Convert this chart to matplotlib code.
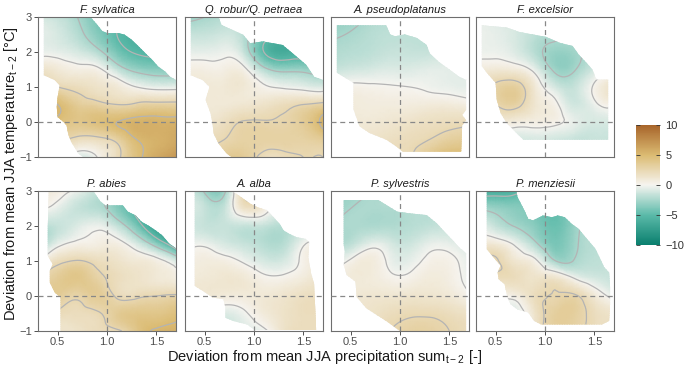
import numpy as np
import matplotlib.pyplot as plt
from matplotlib.colors import LinearSegmentedColormap, Normalize
from matplotlib.patches import Polygon
from matplotlib.cm import ScalarMappable
from matplotlib.tri import Triangulation, UniformTriRefiner

plt.rcParams['font.family'] = ['Liberation Sans', 'DejaVu Sans']

species = ["F. sylvatica", "Q. robur/Q. petraea", "A. pseudoplatanus", "F. excelsior",
           "P. abies", "A. alba", "P. sylvestris", "P. menziesii"]

# grid nodes: precipitation ratio (x) and temperature deviation (y, top -> bottom)
precip = [0.3, 0.5, 0.7, 0.9, 1.1, 1.3, 1.5, 1.7]
temp = [3, 2.5, 2, 1.5, 1, 0.5, 0, -0.5, -1]

sylvatica = [
    [-1, -1.5, -2.5, -4, -5, -5.8, -6, -6],
    [-0.5, -1, -2, -3.5, -5, -6, -6.2, -6],
    [-0.5, -0.5, -1, -2, -4, -5.2, -5.5, -5.5],
    [1.5, 1, 0.5, 0.3, -1.5, -3, -3.5, -3.5],
    [3.5, 2.5, 2, 1.5, 1, 0, -0.5, -0.5],
    [6, 5, 3.5, 3, 2.5, 2.8, 3, 3],
    [5, 4.5, 4, 4.5, 5, 5.5, 5.5, 5.5],
    [4, 3, 2, 2, 3, 5, 5.5, 6],
    [3, 1, -1, 0, 2, 4.5, 6, 7],
]
robur = [
    [-3, -2.5, -2, -2, -2.5, -3, -3.5, -3.5],
    [-1.5, -1.5, -1.2, -2, -4, -5, -5, -4.5],
    [-0.5, -0.5, -0.3, -1.5, -5, -6.2, -5.8, -5],
    [0.5, 0.5, 0.5, 0.3, -2, -3, -3, -3],
    [1, 1, 1, 1, 0.2, -0.2, -0.5, -0.8],
    [1, 1, 1, 1.2, 1.5, 2, 2.5, 3],
    [1, 1.2, 1.8, 2.6, 2.6, 2.7, 3.5, 5.5],
    [1.5, 2, 2.5, 3, 3, 3, 3, 3.5],
    [2, 2.5, 3.5, 3.5, 2, 2, 2.5, 2.5],
]
pseudoplatanus = [
    [-3.5, -3, -2.4, -2, -2, -2, -2, -2],
    [-2.7, -2.4, -2, -1.8, -1.8, -1.8, -1.8, -1.8],
    [-2.2, -2, -1.8, -1.5, -1.5, -1.5, -1.2, -1.2],
    [-1.5, -1.2, -1, -0.8, -0.8, -0.6, -0.6, -0.6],
    [0, 0.3, 0.2, 0.1, 0, -0.2, -0.4, -0.5],
    [0.7, 0.8, 0.7, 0.7, 0.7, 0.8, 0.8, 0.5],
    [1, 1, 1, 1.2, 1.5, 1.8, 2, 2.2],
    [1.2, 1.3, 1.5, 1.8, 2.1, 2.5, 3.2, 3.5],
    [1.5, 1.5, 2, 2.3, 2.3, 4, 5, 5],
]
excelsior = [
    [-0.5, -0.8, -1.2, -1.8, -2, -2, -1.8, -1.5],
    [-0.3, -0.5, -1, -1.8, -2.2, -2.2, -2, -1.5],
    [-0.3, -0.3, -0.8, -2, -3, -2.7, -2, -1.5],
    [0.8, 1, 0.8, -0.5, -2.8, -2.6, -1.2, -0.5],
    [2, 2.8, 3.2, 1, -1, -1.5, 0.2, 1.5],
    [1.5, 2.5, 3, 1.2, 0.3, -1.2, -0.3, 0.3],
    [0.5, 0.8, 0.7, 0.5, 0.3, -0.5, -1, -1],
    [-0.5, -0.8, -1, -1, -1.2, -1.5, -1.5, -1.5],
    [-1, -1, -1, -1.2, -1.5, -1.5, -1.5, -1.5],
]
abies = [
    [1, 0.5, -0.3, -1.5, -3, -5, -7, -8],
    [0.2, -0.5, -1.5, -2, -3.5, -5.5, -7.5, -9],
    [-2, -1.5, -0.8, -0.3, -1.5, -4, -7, -9],
    [-3, -0.5, 0.3, 0.5, 0.5, -1, -3.5, -7],
    [0.8, 2, 2.6, 2, 1.5, 1, 0.5, -1],
    [2.5, 3.5, 4, 3, 2, 1.5, 1, 0.5],
    [3.5, 3.5, 2.8, 3.5, 2.3, 2.2, 2.5, 2.7],
    [3, 2.2, 2, 2.3, 3.5, 4, 4, 4.5],
    [2, 1.5, 1.5, 2, 2.2, 4, 5.2, 5.5],
]
alba = [
    [-1, -2.7, -2.8, 2.5, 1.5, 1, 0, 0],
    [-1, -1.5, -1.5, 1.5, 0.8, -0.5, -1, -1],
    [-1, -1.5, -1.5, -1.5, -1.5, -2, -1.5, -1],
    [-0.5, -0.3, -1, -1.5, -2, -2, -0.2, 0.5],
    [0.5, 0.7, 0.5, -0.2, -1, -1, 0.3, 1],
    [1, 1, 1.2, 1, 0.3, 0.3, 0.8, 1.5],
    [1, 1, 0.8, 0.8, 1, 1.3, 1.8, 2],
    [0, -0.5, -0.8, -0.2, 0.8, 1.5, 2, 2],
    [-1, -1, -1.5, -0.8, -0.3, 1.5, 2, 2],
]
sylvestris = [
    [-3.2, -3, -2.6, -2.2, -1.8, -1.5, -1.5, -1.5],
    [-3, -2.5, -2.3, -2.3, -2, -1.8, -1.5, -1.5],
    [-2.4, -2.3, -2.3, -2.2, -2, -1.7, -1.4, -1.2],
    [-2, -1.8, -0.6, -1, -1.3, -0.5, -0.5, -0.8],
    [-0.8, 0.2, 0.8, -0.3, -0.5, 0.3, 0.3, -0.5],
    [0.5, 0.8, 0.8, 0.3, 0.3, 0.8, 0.5, -0.3],
    [1, 1, 1.2, 1.2, 1.3, 1.3, 1, 0.2],
    [1, 1.2, 1.5, 2, 2.3, 2.3, 2, 1.5],
    [1, 1.3, 1.8, 2.5, 3, 3, 2.5, 2],
]
menziesii = [
    [-6.5, -6, -5.5, -4, -4, -3, -2, -2],
    [-2.7, -3, -3.5, -4, -4.5, -3, -2, -2],
    [-0.5, -1.5, -2.6, -3.5, -4.5, -3, -2, -1.8],
    [0.8, 0.9, -0.3, -2.2, -4, -2.8, -2, -1.8],
    [2, 2.7, 1.2, 0.3, -2.4, -2.4, -1.8, -1.5],
    [2, 2, 2, 1.5, 1.5, 0, -1, -1.5],
    [1, 0.5, 0.5, 2, 2.6, 2.7, 1, -0.5],
    [0.5, 0, -0.8, 1.5, 3.2, 3.2, 2, 1.5],
    [0, -0.5, -1, 1.5, 3, 3, 2, 1.5],
]

# outline of the observed climate space per species
sylvatica_hull = [(0.36, 3.0), (0.83, 3.0), (0.9, 2.78), (0.95, 2.6), (1.0, 2.54), (1.12, 2.54),
                  (1.18, 2.49), (1.25, 2.35), (1.32, 2.16), (1.39, 1.96), (1.46, 1.77), (1.52, 1.58),
                  (1.59, 1.44), (1.64, 1.29), (1.7, 1.2), (1.7, -1.0), (0.76, -1.0), (0.71, -0.9),
                  (0.64, -0.58), (0.61, -0.38), (0.59, -0.1), (0.56, 0.0), (0.5, 0.14), (0.49, 0.43),
                  (0.5, 0.72), (0.52, 1.05), (0.47, 1.2), (0.36, 1.34)]
robur_hull = [(0.36, 3.0), (0.64, 3.0), (0.67, 2.77), (0.89, 2.49), (0.96, 2.25), (1.09, 2.3),
              (1.29, 2.2), (1.43, 1.87), (1.53, 1.63), (1.61, 1.29), (1.7, 1.2), (1.7, -1.0),
              (0.77, -1.0), (0.72, -0.89), (0.64, -0.61), (0.59, -0.32), (0.58, -0.04), (0.56, 0.25),
              (0.51, 0.63), (0.55, 1.01), (0.48, 1.2), (0.36, 1.34)]
pseudoplatanus_hull = [(0.36, 2.76), (0.86, 2.76), (0.9, 2.5), (0.95, 2.45), (1.05, 2.5), (1.17, 2.4),
                       (1.27, 2.2), (1.3, 1.96), (1.4, 1.7), (1.5, 1.5), (1.6, 1.29), (1.67, 1.2),
                       (1.67, 0.35), (1.63, 0.2), (1.67, 0.05), (1.63, -0.1), (1.62, -0.85), (1.03, -0.85),
                       (0.96, -0.69), (0.86, -0.5), (0.69, -0.31), (0.59, -0.12), (0.53, 0.36),
                       (0.53, 1.12), (0.36, 1.41)]
excelsior_hull = [(0.36, 2.76), (0.61, 2.7), (0.74, 2.57), (1.01, 2.43), (1.15, 2.26), (1.28, 2.17),
                  (1.34, 1.93), (1.42, 1.69), (1.48, 1.5), (1.52, 1.21), (1.64, 1.21), (1.64, -0.5),
                  (0.78, -0.5), (0.71, -0.31), (0.61, -0.02), (0.55, 0.26), (0.51, 0.64), (0.5, 1.12),
                  (0.41, 1.41), (0.36, 1.6)]
abies_hull = [(0.41, 3.0), (0.86, 3.0), (0.93, 2.71), (0.98, 2.59), (1.16, 2.59), (1.21, 2.41),
              (1.29, 2.3), (1.35, 2.12), (1.42, 2.01), (1.49, 1.88), (1.56, 1.73), (1.63, 1.5),
              (1.7, 1.36), (1.7, -1.0), (0.53, -1.0), (0.53, -0.04), (0.47, 0.1), (0.42, 0.39),
              (0.42, 0.72), (0.45, 0.91), (0.4, 1.15), (0.4, 2.0)]
alba_hull = [(0.4, 3.0), (0.77, 3.0), (0.82, 2.92), (0.89, 2.78), (0.96, 2.64), (1.03, 2.54),
             (1.13, 2.45), (1.18, 2.3), (1.26, 2.06), (1.3, 1.87), (1.36, 1.77), (1.43, 1.68),
             (1.52, 1.63), (1.56, 1.54), (1.55, 1.1), (1.58, 0.63), (1.61, 0.34), (1.63, -0.97),
             (1.01, -0.97), (0.93, -0.81), (0.79, -0.71), (0.71, -0.62), (0.71, -0.33), (0.69, -0.09),
             (0.58, -0.04), (0.48, 0.15), (0.4, 0.29)]
sylvestris_hull = [(0.43, 2.74), (0.78, 2.74), (0.86, 2.6), (0.97, 2.41), (1.1, 2.36), (1.27, 2.31),
                   (1.37, 2.08), (1.5, 1.69), (1.61, 1.36), (1.67, 1.22), (1.67, -1.0), (1.0, -1.0),
                   (0.87, -0.73), (0.66, -0.35), (0.56, -0.02), (0.55, 0.41), (0.46, 0.6), (0.43, 0.89),
                   (0.44, 1.27), (0.43, 1.46)]
menziesii_hull = [(0.41, 3.0), (0.71, 3.0), (0.72, 2.83), (0.79, 2.45), (0.83, 2.2), (0.88, 2.16),
                  (0.98, 2.3), (1.07, 2.25), (1.13, 2.3), (1.2, 2.25), (1.27, 2.06), (1.34, 1.92),
                  (1.41, 1.68), (1.51, 1.35), (1.56, 1.06), (1.6, 0.82), (1.65, 0.67), (1.66, 0.24),
                  (1.66, -0.23), (1.65, -0.71), (1.58, -0.81), (0.96, -0.81), (0.89, -0.71),
                  (0.83, -0.47), (0.72, -0.38), (0.65, -0.23), (0.62, -0.04), (0.59, 0.34),
                  (0.53, 0.48), (0.52, 0.67), (0.55, 0.87), (0.48, 1.1), (0.41, 1.34)]

grids = [sylvatica, robur, pseudoplatanus, excelsior, abies, alba, sylvestris, menziesii]
hulls = [sylvatica_hull, robur_hull, pseudoplatanus_hull, excelsior_hull,
         abies_hull, alba_hull, sylvestris_hull, menziesii_hull]

levels = [-7.5, -5, -2.5, 0, 2.5, 5, 7.5]
cmap = LinearSegmentedColormap.from_list(
    "brbg", ["#0a7f6e", "#5bbaa9", "#f6f4f0", "#dbbb72", "#a7642a"])

W, H = 685, 368
fig = plt.figure(figsize=(W / 100, H / 100), dpi=100)
lefts = [38, 185, 331, 476]
tops = [17, 191]
pw, ph = 138, 140

X, Y = np.meshgrid(precip, temp)
tri = Triangulation(X.ravel(), Y.ravel())
refiner = UniformTriRefiner(tri)

for i, (name, grid, hull) in enumerate(zip(species, grids, hulls)):
    r, c = divmod(i, 4)
    ax = fig.add_axes([lefts[c] / W, 1 - (tops[r] + ph) / H, pw / W, ph / H])
    z = np.array(grid, dtype=float).ravel()
    tri_f, z_f = refiner.refine_field(z, subdiv=3)
    clip = Polygon(hull, closed=True, transform=ax.transData)
    mesh = ax.tripcolor(tri_f, z_f, shading='gouraud', cmap=cmap, vmin=-10, vmax=10,
                        zorder=1, rasterized=True)
    mesh.set_clip_path(clip)
    cs = ax.tricontour(tri_f, z_f, levels=levels, colors='#b4b4b4', linewidths=0.9,
                       linestyles='solid', zorder=2)
    cs.set_clip_path(clip)
    ax.axvline(1.0, color='#888888', lw=0.9, ls=(0, (4, 3)), zorder=3)
    ax.axhline(0.0, color='#888888', lw=0.9, ls=(0, (4, 3)), zorder=3)
    ax.set_xlim(0.3, 1.7)
    ax.set_ylim(-1, 3)
    ax.set_title(name, fontsize=8, style='italic', pad=3, color='#1a1a1a')
    for s in ax.spines.values():
        s.set_color('#6e6e6e')
        s.set_linewidth(0.8)
    ax.tick_params(length=3, width=0.6, color='#333333', labelsize=8,
                   labelcolor='#4d4d4d', pad=1.5)
    if r == 1:
        ax.set_xticks([0.5, 1.0, 1.5], ['0.5', '1.0', '1.5'])
    else:
        ax.set_xticks([])
    if c == 0:
        ax.set_yticks([-1, 0, 1, 2, 3])
    else:
        ax.set_yticks([])

cax = fig.add_axes([636 / W, 1 - 245 / H, 24 / W, 120 / H])
cb = fig.colorbar(ScalarMappable(norm=Normalize(-10, 10), cmap=cmap), cax=cax,
                  ticks=[-10, -5, 0, 5, 10])
cb.outline.set_visible(False)
cax.tick_params(left=True, right=True, direction='in', length=3, width=0.6,
                color='#333333', labelsize=8, labelcolor='#333333', pad=4)

fig.text(325 / W, 1 - 357 / H, r"Deviation from mean JJA precipitation sum$_{\mathregular{t-2}}$ [-]",
         ha='center', va='center', fontsize=10.5, color='#1a1a1a')
fig.text(11 / W, 1 - 174 / H, r"Deviation from mean JJA temperature$_{\mathregular{t-2}}$ [°C]",
         ha='center', va='center', rotation=90, fontsize=10.5, color='#1a1a1a')

fig.savefig("out.png", dpi=100)
